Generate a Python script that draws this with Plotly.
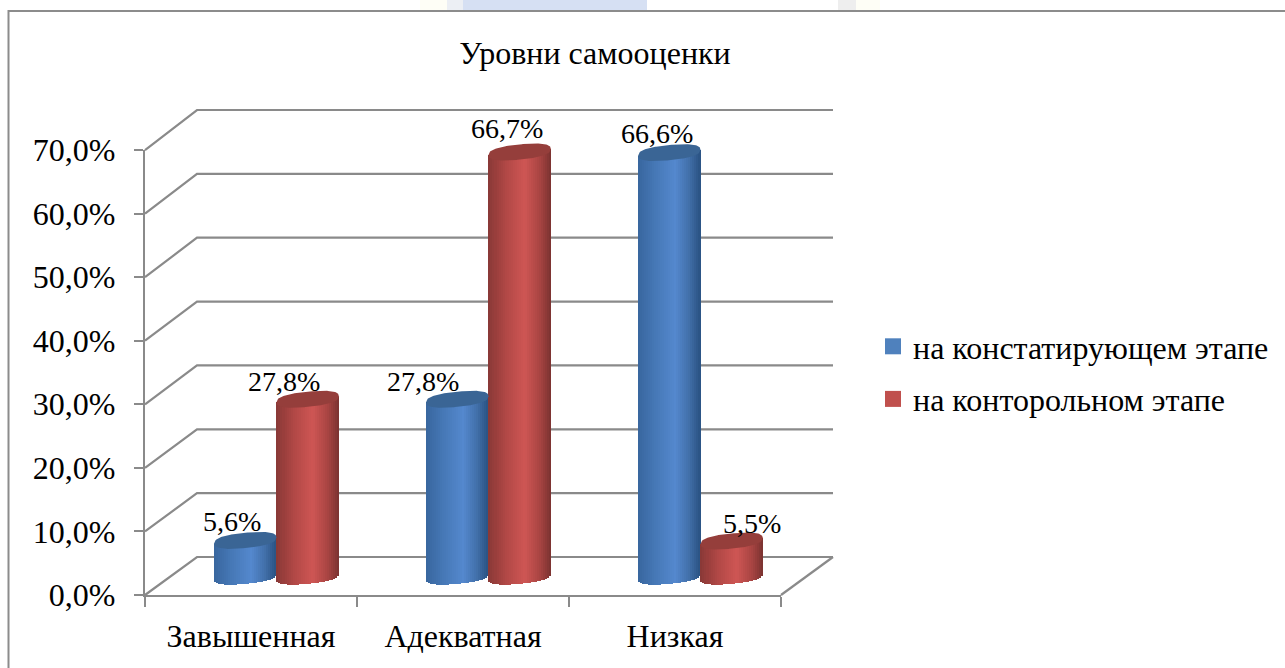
import math
import plotly.graph_objects as go

# ---- data
categories = ["Завышенная", "Адекватная", "Низкая"]
series_a_name = "на констатирующем этапе"
series_b_name = "на конторольном этапе"
series_a_values = [5.6, 27.8, 66.6]
series_b_values = [27.8, 66.7, 5.5]
y_ticks = [0, 10, 20, 30, 40, 50, 60, 70]
title_text = "Уровни самооценки"

# ---- geometry (pixels -> axis scale)
W, H = 1285, 668
PX0, PXU = 145.0, 212.0
PY0, PYU = 595.0, 6.357
X_LO, X_HI, Y_LO, Y_HI = -0.1, 3.4, -4.0, 79.0
DEPTH_X, DEPTH_Y = 52 / PXU, 38 / PYU
BACK_SCALE = 447 / 445
FONT = "Liberation Serif"
AXIS = "#8a8a8a"
GRID = "#8a8a8a"

def xdom(a, b):
    return [(PX0 + a * PXU) / W, (PX0 + b * PXU) / W]

def ydom(a, b):
    return [(H - (PY0 - a * PYU)) / H, (H - (PY0 - b * PYU)) / H]

HALF_W = 31.2 / PXU       # cylinder half width
ELL_B = 7.6 / PYU         # ellipse half height
ELL_T = 3.0 / PYU         # tilt of ellipse
SUPER = 2.5               # slightly blunt ellipse
CENTER_SHIFT = -0.5 / PXU
N = 31

def mix(stops, t):
    for (t0, c0), (t1, c1) in zip(stops, stops[1:]):
        if t <= t1:
            f = (t - t0) / (t1 - t0)
            return "rgb(%d,%d,%d)" % tuple(round(c0[i] + (c1[i] - c0[i]) * f) for i in range(3))
    return "rgb(%d,%d,%d)" % stops[-1][1]

def half_height(u):
    return max(0.0, 1 - abs(u) ** SUPER) ** (1 / SUPER)

BLUE = [(0, (56, 102, 158)), (0.28, (70, 120, 182)), (0.6, (84, 136, 206)), (0.82, (66, 112, 170)), (1, (42, 82, 130))]
RED = [(0, (136, 56, 54)), (0.28, (178, 72, 70)), (0.58, (206, 86, 84)), (0.82, (168, 68, 66)), (1, (122, 50, 48))]
CAP_BLUE = "#3A6595"
CAP_RED = "#953E3B"

fig = go.Figure()

def cylinders(values, side, stops, cap):
    centers = [i + 0.5 + DEPTH_X / 2 + CENTER_SHIFT + side * HALF_W for i in range(len(values))]
    for k in range(N):
        u = -1 + (2 * k + 1) / N
        xs = [c + u * HALF_W for c in centers]
        low = DEPTH_Y / 2 + ELL_T * u - ELL_B * half_height(u)
        fig.add_trace(go.Bar(
            x=xs,
            y=[(v + DEPTH_Y / 2 + ELL_T * u) - low for v in values],
            base=[low] * len(values),
            width=HALF_W * 2 / N * 1.25,
            marker=dict(color=mix(stops, (u + 1) / 2), line=dict(width=0)),
            showlegend=False,
            hoverinfo="skip",
        ))
    for c, v in zip(centers, values):
        px, py = [], []
        for j in range(81):
            u = -1 + j / 40
            px.append(c + HALF_W * u)
            py.append(v + DEPTH_Y / 2 + ELL_T * u + ELL_B * half_height(u))
        for j in range(81):
            u = 1 - j / 40
            px.append(c + HALF_W * u)
            py.append(v + DEPTH_Y / 2 + ELL_T * u - ELL_B * half_height(u))
        fig.add_trace(go.Scatter(x=px, y=py, mode="lines", fill="toself", fillcolor=cap,
                                 line=dict(width=0, color=cap), showlegend=False, hoverinfo="skip"))

cylinders(series_a_values, -1, BLUE, CAP_BLUE)
cylinders(series_b_values, 1, RED, CAP_RED)

# legend entries
for nm, col in [(series_a_name, "#4F81BD"), (series_b_name, "#C0504D")]:
    fig.add_trace(go.Scatter(x=[None], y=[None], mode="markers", name=nm, legendgroup=nm,
                             marker=dict(symbol="square", size=16, color=col)))

# trace that brings the labelled front axes into existence
fig.add_trace(go.Scatter(x=[None], y=[None], xaxis="x2", yaxis="y2", showlegend=False))

# back wall / side wall / floor gridlines
shapes = []
for t in y_ticks:
    back = t * BACK_SCALE + DEPTH_Y
    shapes.append(dict(type="path", layer="below", xref="x", yref="y",
                       path="M 0 %f L %f %f L %f %f" % (t, DEPTH_X, back, 3 + DEPTH_X, back),
                       line=dict(color=GRID, width=2.2)))
shapes.append(dict(type="path", layer="below", xref="x", yref="y",
                   path="M 3 0 L %f %f" % (3 + DEPTH_X, DEPTH_Y), line=dict(color=GRID, width=2.2)))
# faint page background showing above the chart
for x0, x1, col in [(463, 647, "#D6E0F3"), (420, 447, "#FEFEF6"), (447, 463, "#ECEFF4"),
                    (838, 856, "#EEEEEE"), (856, 880, "#FEFEF6")]:
    shapes.append(dict(type="rect", xref="paper", yref="paper", x0=x0 / W, x1=x1 / W, y0=1 - 10 / H, y1=1.0,
                       layer="below", fillcolor=col, line=dict(width=0)))
# chart frame (its right and bottom edges lie outside the page)
shapes.append(dict(type="rect", xref="paper", yref="paper", x0=8.5 / W, x1=1.02, y0=-0.02, y1=1 - 11 / H,
                   layer="below", fillcolor="white", line=dict(color="#8c8c8c", width=2)))

# data labels (manually moved in the original)
annotations = []
label_shift_a = [(-14, 19), (-35, 18), (-13, 19)]
label_shift_b = [(-24, 18), (-13, 23), (20, 18)]
def fmt(v):
    return ("%.1f%%" % v).replace(".", ",")
for side, vals, shifts in [(-1, series_a_values, label_shift_a), (1, series_b_values, label_shift_b)]:
    for i, (v, (dx, dy)) in enumerate(zip(vals, shifts)):
        annotations.append(dict(x=i + 0.5 + DEPTH_X / 2 + side * HALF_W, y=v + DEPTH_Y / 2, xref="x", yref="y",
                                text=fmt(v), showarrow=False, xshift=dx, yshift=dy,
                                font=dict(family=FONT, size=28, color="black")))

fig.update_layout(
    width=W, height=H, margin=dict(l=0, r=0, t=0, b=0, autoexpand=False),
    paper_bgcolor="white", plot_bgcolor="rgba(0,0,0,0)",
    barmode="overlay", bargap=0,
    font=dict(family=FONT, color="black"),
    title=dict(text=title_text, x=595 / W, xanchor="center", xref="container", y=1 - 53 / H, yanchor="middle",
               yref="container", automargin=False, font=dict(family=FONT, size=32, color="black")),
    xaxis=dict(range=[X_LO, X_HI], domain=xdom(X_LO, X_HI), visible=False, anchor="y", automargin=False),
    yaxis=dict(range=[Y_LO, Y_HI], domain=ydom(Y_LO, Y_HI), visible=False, anchor="x", automargin=False),
    xaxis2=dict(range=[0, 3], domain=xdom(0, 3), anchor="y2", showgrid=False, zeroline=False, automargin=False,
                showline=True, linecolor=AXIS, linewidth=2.2,
                tickmode="array", tickvals=[0.5, 1.5, 2.5], ticktext=categories,
                ticks="", ticklabelstandoff=11,
                tickfont=dict(family=FONT, size=32, color="black"),
                minor=dict(tickmode="array", tickvals=[0, 1, 2, 3], ticks="outside", ticklen=10,
                           tickwidth=2, tickcolor=AXIS, showgrid=False)),
    yaxis2=dict(range=[0, 70], domain=ydom(0, 70), anchor="x2", showgrid=False, zeroline=False, automargin=False,
                showline=True, linecolor=AXIS, linewidth=2.2,
                tickmode="array", tickvals=y_ticks, ticktext=[fmt(t) for t in y_ticks],
                ticks="outside", ticklen=9, tickwidth=2, tickcolor=AXIS, ticklabelstandoff=12,
                tickfont=dict(family=FONT, size=32, color="black")),
    legend=dict(x=873 / W, y=1 - 319 / H, xanchor="left", yanchor="top", tracegroupgap=8,
                bgcolor="rgba(0,0,0,0)", font=dict(family=FONT, size=32, color="black")),
    shapes=shapes, annotations=annotations, showlegend=True,
)

fig.write_html("out.html", config={"displayModeBar": False},
               post_script="document.body.style.margin='0';document.body.style.overflow='hidden';")
